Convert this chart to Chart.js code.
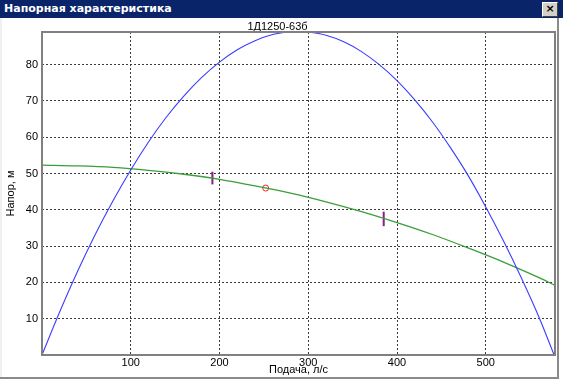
<!DOCTYPE html>
<html>
<head>
<meta charset="utf-8">
<script src="https://cdn.jsdelivr.net/npm/chart.js@4"></script>
<style>
  html, body { margin: 0; padding: 0; background: #fff; }
  .window { position: relative; width: 563px; height: 383px; overflow: hidden; background: #fff; }
  .titlebar {
    position: absolute; left: 0; top: 0; width: 563px; height: 18px;
    background: #0a246a; color: #fff; font: bold 11px Tahoma, "DejaVu Sans", sans-serif;
    line-height: 18px; padding-left: 4px; box-sizing: border-box; z-index: 2;
  }
  .close {
    position: absolute; right: 5px; top: 2px; width: 14px; height: 13px;
    background: #d4d0c8; border: 1px solid; border-color: #fff #404040 #404040 #fff;
    color: #000; font: bold 11px "DejaVu Sans", sans-serif; line-height: 12px; text-align: center;
  }
  .frame-right { position: absolute; left: 557px; top: 18px; width: 2px; height: 361px; background: #8a8a8a; z-index: 2; }
  .frame-bottom { position: absolute; left: 0; top: 377px; width: 559px; height: 2px; background: #8a8a8a; z-index: 2; }
  .frame-left { position: absolute; left: 0; top: 18px; width: 2px; height: 360px; background: #f0f0f0; z-index: 2; }
  canvas { position: absolute; left: 0; top: 0; }
</style>
</head>
<body>
<div class="window">
  <div class="titlebar">Напорная характеристика<div class="close">×</div></div>
  <div class="frame-left"></div>
  <div class="frame-right"></div>
  <div class="frame-bottom"></div>
  <canvas id="chart" width="563" height="383"></canvas>
</div>
<script>
// data
const chartTitle = '1Д1250-63б';
const xLabel = 'Подача, л/с';
const yLabel = 'Напор, м';

// efficiency-like curve (blue)
const blueX = [0, 20, 40, 60, 80, 100, 120, 140, 160, 180, 200, 220, 240, 260, 280, 289, 300, 320, 340, 360, 380, 400, 420, 440, 460, 480, 500, 520, 540, 560, 577];
const blueY = [0, 11.9, 23.0, 33.2, 42.5, 51.0, 58.7, 65.5, 71.4, 76.5, 80.7, 84.1, 86.6, 88.3, 89.1, 89.2, 89.0, 88.1, 86.3, 83.6, 80.0, 75.6, 70.3, 64.2, 57.2, 49.5, 40.8, 31.4, 21.3, 10.4, 0];

// head curve (green)
const greenX = [0, 40, 80, 120, 160, 200, 240, 280, 320, 360, 400, 440, 480, 520, 560, 578];
const greenY = [52.3, 52.1, 51.7, 50.9, 49.8, 48.4, 46.6, 44.6, 42.2, 39.5, 36.5, 33.2, 29.5, 25.6, 21.3, 19.2];

// working range marks (purple) and duty point (red)
const markLeftX = [192, 192];
const markLeftY = [47.0, 50.5];
const markRightX = [385, 385];
const markRightY = [35.5, 39.5];
const dutyX = [252];
const dutyY = [46.0];

const xMax = 578;
const yMax = 89;

const pts = (xs, ys) => xs.map((x, i) => ({ x, y: ys[i] }));

const frameBox = {
  id: 'frameBox',
  afterDatasetsDraw(chart) {
    const { ctx, chartArea } = chart;
    ctx.save();
    ctx.strokeStyle = '#808080';
    ctx.lineWidth = 2;
    ctx.strokeRect(chartArea.left, chartArea.top, chartArea.right - chartArea.left, chartArea.bottom - chartArea.top);
    ctx.restore();
  }
};

const gridColor = (ctx) => (ctx.tick && ctx.tick.value === 0 ? 'rgba(0,0,0,0)' : '#3a3a3a');
const font = { family: 'Tahoma, "Liberation Sans", sans-serif', size: 11, weight: 'normal' };

new Chart(document.getElementById('chart'), {
  type: 'line',
  data: {
    datasets: [
      { data: pts(blueX, blueY), borderColor: '#3c3cff', borderWidth: 1.1, pointRadius: 0, tension: 0.4, cubicInterpolationMode: 'monotone' },
      { data: pts(greenX, greenY), borderColor: '#3a9e3a', borderWidth: 1.3, pointRadius: 0, tension: 0.4, cubicInterpolationMode: 'monotone' },
      { data: pts(markLeftX, markLeftY), borderColor: '#8b1a8b', borderWidth: 2, pointRadius: 0 },
      { data: pts(markRightX, markRightY), borderColor: '#8b1a8b', borderWidth: 2, pointRadius: 0 },
      { data: pts(dutyX, dutyY), showLine: false, pointRadius: 3, pointBorderWidth: 1, pointBorderColor: '#ff2020', pointBackgroundColor: '#ffffff' }
    ]
  },
  options: {
    responsive: false,
    animation: false,
    layout: { padding: { top: 1, right: 8, left: 0, bottom: 0 } },
    plugins: {
      legend: { display: false },
      tooltip: { enabled: false },
      title: { display: true, text: chartTitle, color: '#000', font: { ...font, lineHeight: 1 }, padding: { top: 20, bottom: 0 } }
    },
    scales: {
      x: {
        type: 'linear', min: 0, max: xMax,
        afterFit: (axis) => { axis.height = 28; },
        border: { display: false, dash: [2, 2] },
        grid: { color: gridColor, lineWidth: 1, drawTicks: false },
        ticks: { stepSize: 100, includeBounds: false, color: '#000', font, padding: 1, maxRotation: 0,
          callback: (v) => (v === 0 ? '' : v) },
        title: { display: true, text: xLabel, color: '#000', font: { ...font, lineHeight: 1 }, padding: { top: 0, bottom: 8 } }
      },
      y: {
        type: 'linear', min: 0, max: yMax,
        afterFit: (axis) => { axis.width = 42; },
        border: { display: false, dash: [2, 2] },
        grid: { color: gridColor, lineWidth: 1, drawTicks: false },
        ticks: { stepSize: 10, includeBounds: false, color: '#000', font, padding: 4,
          callback: (v) => (v === 0 ? '' : v) },
        title: { display: true, text: yLabel, color: '#000', font, padding: { top: 4, bottom: 0 } }
      }
    }
  },
  plugins: [frameBox]
});
</script>
</body>
</html>
